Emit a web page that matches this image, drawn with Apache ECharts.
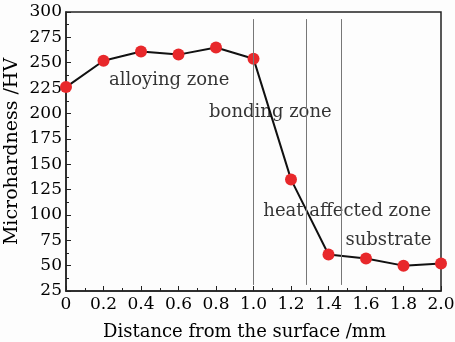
<!doctype html>
<html>
<head>
<meta charset="utf-8">
<title>Microhardness profile</title>
<script src="https://cdn.jsdelivr.net/npm/echarts@6/dist/echarts.min.js"></script>
<style>
html,body{margin:0;padding:0;background:#fff;}
#main{width:455px;height:342px;}
</style>
</head>
<body>
<div id="main"></div>
<script>
// 距离 (mm) 与显微硬度 (HV)
var distance = [0, 0.2, 0.4, 0.6, 0.8, 1.0, 1.2, 1.4, 1.6, 1.8, 2.0];
var hardness = [226, 252, 261, 258, 265, 254, 135, 61, 57, 50, 52];

// 分区界线位置 (mm) 及其上下端 (HV)
var boundaries = [1.0, 1.28, 1.47];
var boundaryTop = 293;
var boundaryBottom = 31;

// 分区文字 [x, y, 文本]
var zoneLabels = [
    [0.55, 233, 'alloying zone'],
    [1.09, 201, 'bonding zone'],
    [1.50, 104, 'heat affected zone'],
    [1.72, 75, 'substrate']
];

var font = 'DejaVu Serif';
var chart = echarts.init(document.getElementById('main'), null, {renderer: 'canvas'});

var points = [];
for (var i = 0; i < distance.length; i++) {
    points.push([distance[i], hardness[i]]);
}

var lines = [];
for (var j = 0; j < boundaries.length; j++) {
    lines.push([{coord: [boundaries[j], boundaryTop]}, {coord: [boundaries[j], boundaryBottom]}]);
}

chart.setOption({
    animation: false,
    backgroundColor: '#fdfdfd',
    textStyle: {fontFamily: font},
    grid: {
        left: 66, right: 14, top: 12, bottom: 51,
        outerBoundsMode: 'none',
        containLabel: false,
        show: true, borderColor: '#222', borderWidth: 1.5
    },
    xAxis: {
        type: 'value',
        min: 0, max: 2.0, interval: 0.2,
        name: 'Distance from the surface /mm',
        nameLocation: 'middle',
        nameGap: 32,
        nameMoveOverlap: false,
        nameTextStyle: {fontFamily: font, fontSize: 18, color: '#000', padding: [0, 18, 0, 0]},
        axisLine: {lineStyle: {color: '#222', width: 1.5}},
        axisTick: {inside: true, length: 5, lineStyle: {color: '#222'}},
        minorTick: {show: true, splitNumber: 2, length: 3, lineStyle: {color: '#222'}},
        splitLine: {show: false},
        axisLabel: {
            fontFamily: font, fontSize: 17, color: '#000', margin: 5,
            formatter: function (v) { return v === 0 ? '0' : v.toFixed(1); }
        }
    },
    yAxis: {
        type: 'value',
        min: 25, max: 300, interval: 25,
        name: 'Microhardness /HV',
        nameLocation: 'middle',
        nameGap: 44,
        nameMoveOverlap: false,
        nameTextStyle: {fontFamily: font, fontSize: 19, color: '#000'},
        axisLine: {show: true, lineStyle: {color: '#222', width: 1.5}},
        axisTick: {show: true, inside: true, length: 5, lineStyle: {color: '#222'}},
        minorTick: {show: true, splitNumber: 2, length: 3, lineStyle: {color: '#222'}},
        splitLine: {show: false},
        axisLabel: {fontFamily: font, fontSize: 17, color: '#000', margin: 4}
    },
    series: [
        {
            type: 'line',
            data: points,
            symbol: 'circle',
            symbolSize: 12,
            lineStyle: {color: '#111', width: 2},
            itemStyle: {color: '#e8282b'},
            z: 3,
            markLine: {
                silent: true,
                symbol: 'none',
                label: {show: false},
                lineStyle: {color: '#777', width: 1, type: 'solid'},
                data: lines
            }
        },
        {
            type: 'scatter',
            data: zoneLabels,
            symbolSize: 0,
            silent: true,
            z: 4,
            label: {
                show: true,
                position: 'inside',
                fontFamily: font,
                fontSize: 18,
                color: '#000',
                formatter: function (p) { return p.data[2]; }
            }
        }
    ]
});
</script>
</body>
</html>
